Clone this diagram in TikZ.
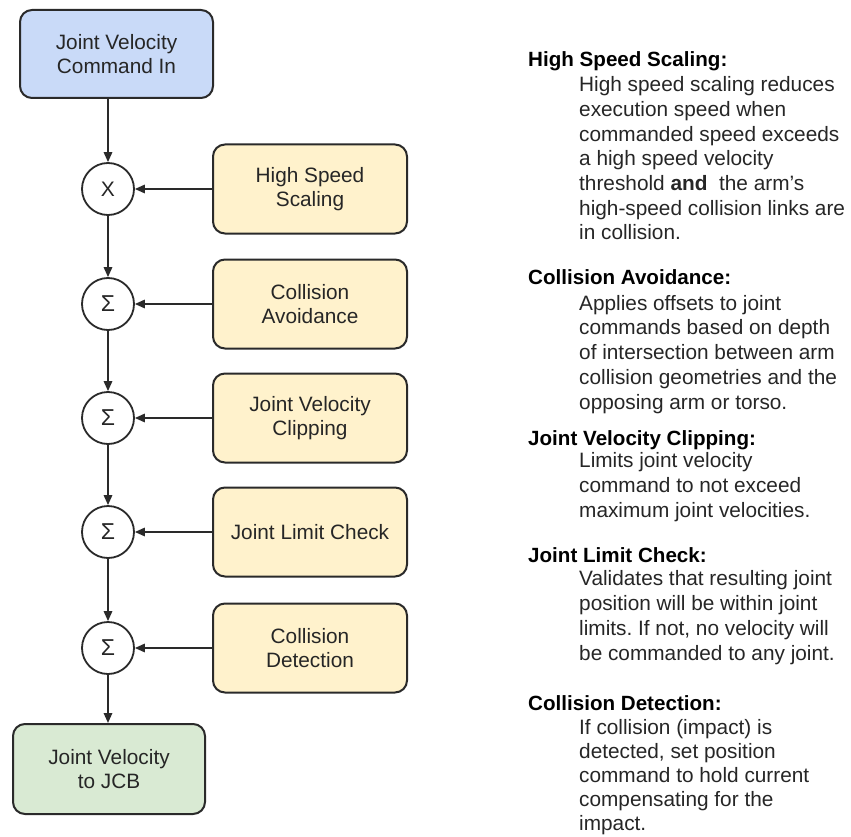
\documentclass[tikz,border=0pt]{standalone}
\usepackage{fontspec}
\setmainfont{Liberation Sans}
\usetikzlibrary{arrows.meta}
\definecolor{bluefill}{HTML}{C9DAF8}
\definecolor{yellowfill}{HTML}{FFF2CC}
\definecolor{greenfill}{HTML}{D9EAD3}
\definecolor{edgecol}{HTML}{2A2A2A}
\definecolor{txtcol}{HTML}{262626}
\frenchspacing
\begin{document}
\begin{tikzpicture}[x=1pt,y=-1pt,
  blockbox/.style={draw=edgecol, line width=2pt, rounded corners=12pt,
    minimum width=194pt, minimum height=89pt, align=center, inner sep=0pt,
    font=\fontsize{20.8}{24}\selectfont, text=txtcol},
  opnode/.style={draw=edgecol, line width=1.8pt, circle, minimum size=52pt,
    inner sep=0pt, fill=white, font=\fontsize{21}{24}\selectfont, text=txtcol},
  arr/.style={draw=edgecol, line width=1.6pt, -{Triangle[length=10pt,width=8.5pt]}},
  head/.style={anchor=base west, inner sep=0pt, font=\fontsize{20.6}{24}\selectfont\bfseries, text=black},
  bodyline/.style={anchor=base west, inner sep=0pt, font=\fontsize{20.8}{24}\selectfont, text=txtcol}]
\fill[white] (0,0) rectangle (851,837);
\useasboundingbox (0,0) rectangle (851,837);

% left diagram
\node[blockbox, fill=bluefill, minimum width=193pt, minimum height=88pt] (in) at (116.5,54) {Joint Velocity\\Command In};
\node[opnode] (sx) at (108,189) {X};
\node[opnode, font=\fontsize{23}{24}\selectfont] (s1) at (108,304) {Σ};
\node[opnode, font=\fontsize{23}{24}\selectfont] (s2) at (108,418) {Σ};
\node[opnode, font=\fontsize{23}{24}\selectfont] (s3) at (108,532) {Σ};
\node[opnode, font=\fontsize{23}{24}\selectfont] (s4) at (108,648) {Σ};
\node[blockbox, fill=yellowfill] (hss) at (310,189) {High Speed\\Scaling};
\node[blockbox, fill=yellowfill] (ca) at (310,304) {Collision\\Avoidance};
\node[blockbox, fill=yellowfill] (jvc) at (310,418) {Joint Velocity\\Clipping};
\node[blockbox, fill=yellowfill] (jlc) at (310,532) {Joint Limit Check};
\node[blockbox, fill=yellowfill] (cd) at (310,648) {Collision\\Detection};
\node[blockbox, fill=greenfill, minimum width=192pt, minimum height=90pt] (out) at (109,769) {Joint Velocity\\to JCB};

\draw[arr] (in.south -| sx.north) -- (sx.north);
\draw[arr] (sx.south) -- (s1.north);
\draw[arr] (s1.south) -- (s2.north);
\draw[arr] (s2.south) -- (s3.north);
\draw[arr] (s3.south) -- (s4.north);
\draw[arr] (s4.south) -- (out.north -| s4.south);
\draw[arr] (hss.west) -- (sx.east);
\draw[arr] (ca.west) -- (s1.east);
\draw[arr] (jvc.west) -- (s2.east);
\draw[arr] (jlc.west) -- (s3.east);
\draw[arr] (cd.west) -- (s4.east);

% right text
\node[head] (hssH) at (528,67) {High Speed Scaling:};
\foreach \t [count=\i] in {High speed scaling reduces, execution speed when, commanded speed exceeds, a high speed velocity, {threshold \textbf{and}\ \ the arm’s}, high-speed collision links are, in collision.}
  \node[bodyline] (hssL\i) at (579,{92+24.6*(\i-1)}) {\t};

\node[head] (caH) at (528,284) {Collision Avoidance:};
\foreach \t [count=\i] in {Applies offsets to joint, commands based on depth, of intersection between arm, collision geometries and the, opposing arm or torso.}
  \node[bodyline] (caL\i) at (579,{310+24.8*(\i-1)}) {\t};

\node[head] (jvcH) at (528,445) {Joint Velocity Clipping:};
\foreach \t [count=\i] in {Limits joint velocity, command to not exceed, maximum joint velocities.}
  \node[bodyline] (jvcL\i) at (579,{467+25.2*(\i-1)}) {\t};

\node[head] (jlcH) at (528,562) {Joint Limit Check:};
\foreach \t [count=\i] in {Validates that resulting joint, position will be within joint, {limits. If not, no velocity will}, be commanded to any joint.}
  \node[bodyline] (jlcL\i) at (579,{585+25*(\i-1)}) {\t};

\node[head] (cdH) at (528,710) {Collision Detection:};
\foreach \t [count=\i] in {If collision (impact) is, {detected, set position}, command to hold current, compensating for the, impact.}
  \node[bodyline] (cdL\i) at (579,{734+24*(\i-1)}) {\t};
\end{tikzpicture}
\end{document}
